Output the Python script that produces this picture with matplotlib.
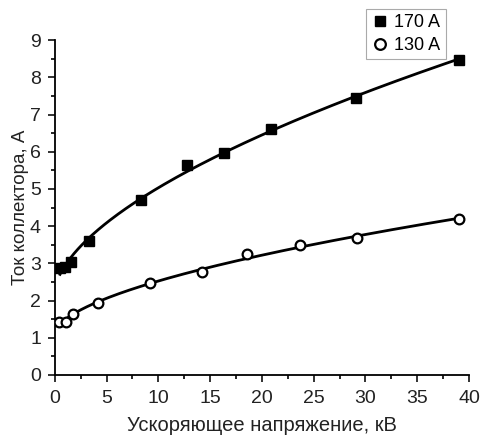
import matplotlib.pyplot as plt
import numpy as np
from matplotlib.ticker import MultipleLocator

plt.rcParams['font.family'] = ['Liberation Sans', 'DejaVu Sans']

# данные
u170 = [0.5, 1.0, 1.6, 3.3, 8.3, 12.8, 16.3, 20.9, 29.1, 39.0]
i170 = [2.88, 2.9, 3.04, 3.6, 4.7, 5.64, 5.96, 6.6, 7.45, 8.47]
u130 = [0.4, 1.05, 1.75, 4.2, 9.2, 14.2, 18.6, 23.7, 29.2, 39.0]
i130 = [1.42, 1.42, 1.64, 1.93, 2.47, 2.77, 3.25, 3.49, 3.68, 4.19]


def power_fit(u, i):
    # y = a + b * x^c, c подбирается перебором
    u = np.asarray(u)
    i = np.asarray(i)
    best = None
    for c in np.linspace(0.3, 1.0, 71):
        A = np.column_stack([np.ones_like(u), u ** c])
        coef, res, *_ = np.linalg.lstsq(A, i, rcond=None)
        err = np.sum((A @ coef - i) ** 2)
        if best is None or err < best[0]:
            best = (err, coef, c)
    return best[1], best[2]


fig = plt.figure(figsize=(4.81, 4.36), dpi=100)
ax = fig.add_axes([0.114, 0.14, 0.861, 0.768])

for u, i in [(u170, i170), (u130, i130)]:
    (a, b), c = power_fit(u, i)
    xx = np.linspace(min(u), max(u), 200)
    ax.plot(xx, a + b * xx ** c, color='black', lw=2)

ax.plot(u170, i170, 's', color='black', ms=7, label='170 A', zorder=3)
ax.plot(u130, i130, 'o', mfc='white', mec='black', mew=1.6, ms=7, label='130 A', zorder=3)

ax.set_xlim(0, 40)
ax.set_ylim(0, 9)
ax.xaxis.set_major_locator(MultipleLocator(5))
ax.xaxis.set_minor_locator(MultipleLocator(2.5))
ax.yaxis.set_major_locator(MultipleLocator(1))
ax.yaxis.set_minor_locator(MultipleLocator(0.5))
ax.spines['top'].set_visible(False)
ax.spines['right'].set_visible(False)
ax.spines['left'].set_linewidth(1.3)
ax.spines['bottom'].set_linewidth(1.3)
ax.tick_params(which='major', direction='out', length=5, width=1.3, labelsize=14,
               colors='#222222')
ax.tick_params(axis='x', which='major', pad=6)
ax.tick_params(axis='y', which='major', pad=5)
ax.tick_params(which='minor', direction='out', length=3, width=1.2)

ax.set_xlabel('Ускоряющее напряжение, кВ', fontsize=14.5, color='#222222', labelpad=6)
ax.set_ylabel('Ток коллектора, А', fontsize=13.5, color='#222222', labelpad=1)

leg = ax.legend(loc='upper right', bbox_to_anchor=(446 / 481, 1 - 9 / 436),
                bbox_transform=fig.transFigure, fontsize=13, fancybox=False,
                edgecolor='#aaaaaa', framealpha=1, handletextpad=0.3,
                borderpad=0.3, labelspacing=0.3, handlelength=1.0,
                borderaxespad=0, markerscale=1.1)
leg.get_frame().set_linewidth(0.8)

fig.savefig('out.png', dpi=100)
